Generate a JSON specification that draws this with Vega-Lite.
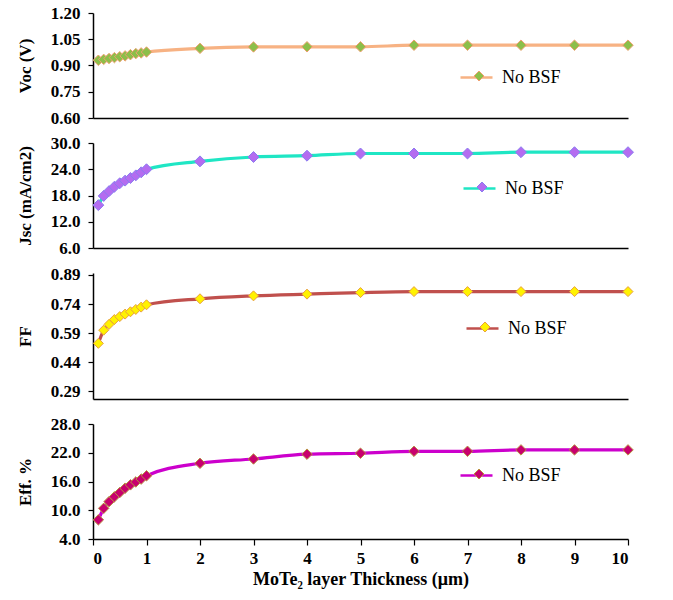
{
  "$schema": "https://vega.github.io/schema/vega-lite/v6.json",
  "background": "white",
  "padding": {"left": 16, "top": 4, "right": 5, "bottom": 5},
  "bounds": "flush",
  "spacing": 25,
  "datasets": {
    "d": [
      {"x": 0.1, "voc": 0.930, "jsc": 15.8, "ff": 0.537, "eff": 8.0, "series": "No BSF"},
      {"x": 0.2, "voc": 0.935, "jsc": 17.9, "ff": 0.605, "eff": 10.4, "series": "No BSF"},
      {"x": 0.3, "voc": 0.940, "jsc": 19.0, "ff": 0.635, "eff": 11.8, "series": "No BSF"},
      {"x": 0.4, "voc": 0.945, "jsc": 20.0, "ff": 0.660, "eff": 12.8, "series": "No BSF"},
      {"x": 0.5, "voc": 0.950, "jsc": 20.8, "ff": 0.675, "eff": 13.7, "series": "No BSF"},
      {"x": 0.6, "voc": 0.955, "jsc": 21.4, "ff": 0.688, "eff": 14.6, "series": "No BSF"},
      {"x": 0.7, "voc": 0.962, "jsc": 22.0, "ff": 0.700, "eff": 15.3, "series": "No BSF"},
      {"x": 0.8, "voc": 0.968, "jsc": 22.6, "ff": 0.712, "eff": 15.9, "series": "No BSF"},
      {"x": 0.9, "voc": 0.972, "jsc": 23.3, "ff": 0.724, "eff": 16.5, "series": "No BSF"},
      {"x": 1.0, "voc": 0.977, "jsc": 24.0, "ff": 0.736, "eff": 17.2, "series": "No BSF"},
      {"x": 2, "voc": 0.998, "jsc": 25.8, "ff": 0.767, "eff": 19.8, "series": "No BSF"},
      {"x": 3, "voc": 1.006, "jsc": 26.8, "ff": 0.782, "eff": 20.7, "series": "No BSF"},
      {"x": 4, "voc": 1.007, "jsc": 27.1, "ff": 0.791, "eff": 21.7, "series": "No BSF"},
      {"x": 5, "voc": 1.007, "jsc": 27.6, "ff": 0.799, "eff": 21.9, "series": "No BSF"},
      {"x": 6, "voc": 1.016, "jsc": 27.6, "ff": 0.804, "eff": 22.3, "series": "No BSF"},
      {"x": 7, "voc": 1.016, "jsc": 27.6, "ff": 0.804, "eff": 22.3, "series": "No BSF"},
      {"x": 8, "voc": 1.016, "jsc": 27.9, "ff": 0.804, "eff": 22.6, "series": "No BSF"},
      {"x": 9, "voc": 1.016, "jsc": 27.9, "ff": 0.804, "eff": 22.6, "series": "No BSF"},
      {"x": 10, "voc": 1.016, "jsc": 27.9, "ff": 0.804, "eff": 22.6, "series": "No BSF"}
    ]
  },
  "data": {"name": "d"},
  "config": {
    "view": {"stroke": null},
    "axis": {
      "grid": false,
      "domainColor": "black",
      "domainWidth": 1.5,
      "tickColor": "black",
      "tickWidth": 1.2,
      "tickSize": 5,
      "labelOverlap": false,
      "labelSeparation": 0,
      "labelFont": "Times New Roman, Liberation Serif, serif",
      "labelFontWeight": "bold",
      "labelFontSize": 17,
      "labelColor": "black",
      "titleFont": "Times New Roman, Liberation Serif, serif",
      "titleFontWeight": "bold",
      "titleFontSize": 17,
      "titleColor": "black"
    },
    "axisY": {"labelPadding": 8, "minExtent": 50, "maxExtent": 50, "titlePadding": 9, "tickCount": 10},
    "legend": {
      "title": null,
      "orient": "none",
      "labelFont": "Times New Roman, Liberation Serif, serif",
      "labelFontSize": 18,
      "labelColor": "black",
      "labelOffset": 14
    }
  },
  "resolve": {
    "scale": {"stroke": "independent", "fill": "independent"},
    "legend": {"stroke": "independent", "fill": "independent"}
  },
  "vconcat": [
    {
      "width": 535,
      "height": 105,
      "layer": [
        {
          "mark": {"type": "line", "interpolate": "monotone", "strokeWidth": 3.2},
          "encoding": {
            "x": {"field": "x", "type": "quantitative", "scale": {"domain": [0, 10]}, "axis": {"labels": false, "ticks": false, "title": null}},
            "y": {"field": "voc", "type": "quantitative", "scale": {"domain": [0.6, 1.2]}, "axis": {"values": [0.6, 0.75, 0.9, 1.05, 1.2], "tickCount": 10, "labelOverlap": false, "format": ".2f", "title": "Voc (V)"}},
            "stroke": {"field": "series", "type": "nominal", "scale": {"range": ["#F7B283"]},
              "legend": {"legendX": 372, "legendY": 53, "symbolType": "M-1.6,0L1.6,0", "symbolSize": 400, "symbolStrokeWidth": 2.5}}
          }
        },
        {
          "mark": {"type": "point", "shape": "diamond", "filled": true, "size": 110, "stroke": "#F0A070", "strokeWidth": 1, "opacity": 1},
          "encoding": {
            "x": {"field": "x", "type": "quantitative"},
            "y": {"field": "voc", "type": "quantitative"},
            "fill": {"field": "series", "type": "nominal", "scale": {"range": ["#8CBF4A"]},
              "legend": {"legendX": 377, "legendY": 54, "symbolType": "diamond", "symbolSize": 100, "symbolStrokeColor": "#F0A070", "symbolStrokeWidth": 1, "labelOpacity": 0}}
          }
        }
      ]
    },
    {
      "width": 535,
      "height": 105,
      "layer": [
        {
          "mark": {"type": "line", "interpolate": "monotone", "strokeWidth": 3.2},
          "encoding": {
            "x": {"field": "x", "type": "quantitative", "scale": {"domain": [0, 10]}, "axis": {"labels": false, "ticks": false, "title": null}},
            "y": {"field": "jsc", "type": "quantitative", "scale": {"domain": [6, 30]}, "axis": {"values": [6, 12, 18, 24, 30], "tickCount": 10, "labelOverlap": false, "format": ".1f", "title": "Jsc (mA/cm2)"}},
            "stroke": {"field": "series", "type": "nominal", "scale": {"range": ["#1FE6C4"]},
              "legend": {"legendX": 375, "legendY": 34, "symbolType": "M-1.6,0L1.6,0", "symbolSize": 400, "symbolStrokeWidth": 2.5}}
          }
        },
        {
          "mark": {"type": "point", "shape": "diamond", "filled": true, "size": 120, "stroke": "#8A7CF0", "strokeWidth": 1, "opacity": 1},
          "encoding": {
            "x": {"field": "x", "type": "quantitative"},
            "y": {"field": "jsc", "type": "quantitative"},
            "fill": {"field": "series", "type": "nominal", "scale": {"range": ["#B46CF0"]},
              "legend": {"legendX": 380, "legendY": 35, "symbolType": "diamond", "symbolSize": 100, "symbolStrokeColor": "#8A7CF0", "symbolStrokeWidth": 1, "labelOpacity": 0}}
          }
        }
      ]
    },
    {
      "width": 535,
      "height": 126,
      "layer": [
        {
          "mark": {"type": "line", "interpolate": "monotone", "strokeWidth": 3.2},
          "encoding": {
            "x": {"field": "x", "type": "quantitative", "scale": {"domain": [0, 10]}, "axis": {"labels": false, "ticks": false, "title": null}},
            "y": {"field": "ff", "type": "quantitative", "scale": {"domain": [0.29, 0.89]}, "axis": {"values": [0.29, 0.44, 0.59, 0.74, 0.89], "tickCount": 10, "labelOverlap": false, "format": ".2f", "title": "FF"}},
            "stroke": {"field": "series", "type": "nominal", "scale": {"range": ["#C0504D"]},
              "legend": {"legendX": 378, "legendY": 44, "symbolType": "M-1.6,0L1.6,0", "symbolSize": 400, "symbolStrokeWidth": 2.5}}
          }
        },
        {
          "mark": {"type": "point", "shape": "diamond", "filled": true, "size": 100, "stroke": "#E8A040", "strokeWidth": 1, "opacity": 1},
          "encoding": {
            "x": {"field": "x", "type": "quantitative"},
            "y": {"field": "ff", "type": "quantitative"},
            "fill": {"field": "series", "type": "nominal", "scale": {"range": ["#FFF200"]},
              "legend": {"legendX": 383, "legendY": 45, "symbolType": "diamond", "symbolSize": 100, "symbolStrokeColor": "#E8A040", "symbolStrokeWidth": 1, "labelOpacity": 0}}
          }
        }
      ]
    },
    {
      "width": 535,
      "height": 115,
      "layer": [
        {
          "mark": {"type": "line", "interpolate": "monotone", "strokeWidth": 3.2},
          "encoding": {
            "x": {"field": "x", "type": "quantitative", "scale": {"domain": [0, 10]}, "axis": {"values": [0, 1, 2, 3, 4, 5, 6, 7, 8, 9, 10], "tickCount": 20, "format": "d", "tickSize": 6, "labelPadding": 5, "title": "MoTe₂ layer Thickness (μm)", "titleFontSize": 18, "titlePadding": 4}},
            "y": {"field": "eff", "type": "quantitative", "scale": {"domain": [4, 28]}, "axis": {"values": [4, 10, 16, 22, 28], "tickCount": 10, "labelOverlap": false, "format": ".1f", "title": "Eff. %"}},
            "stroke": {"field": "series", "type": "nominal", "scale": {"range": ["#CC00CC"]},
              "legend": {"legendX": 372, "legendY": 40, "symbolType": "M-1.6,0L1.6,0", "symbolSize": 400, "symbolStrokeWidth": 2.5}}
          }
        },
        {
          "mark": {"type": "point", "shape": "diamond", "filled": true, "size": 110, "stroke": "#B89040", "strokeWidth": 1, "opacity": 1},
          "encoding": {
            "x": {"field": "x", "type": "quantitative"},
            "y": {"field": "eff", "type": "quantitative"},
            "fill": {"field": "series", "type": "nominal", "scale": {"range": ["#C8006E"]},
              "legend": {"legendX": 377, "legendY": 41, "symbolType": "diamond", "symbolSize": 100, "symbolStrokeColor": "#B89040", "symbolStrokeWidth": 1, "labelOpacity": 0}}
          }
        }
      ]
    }
  ]
}
